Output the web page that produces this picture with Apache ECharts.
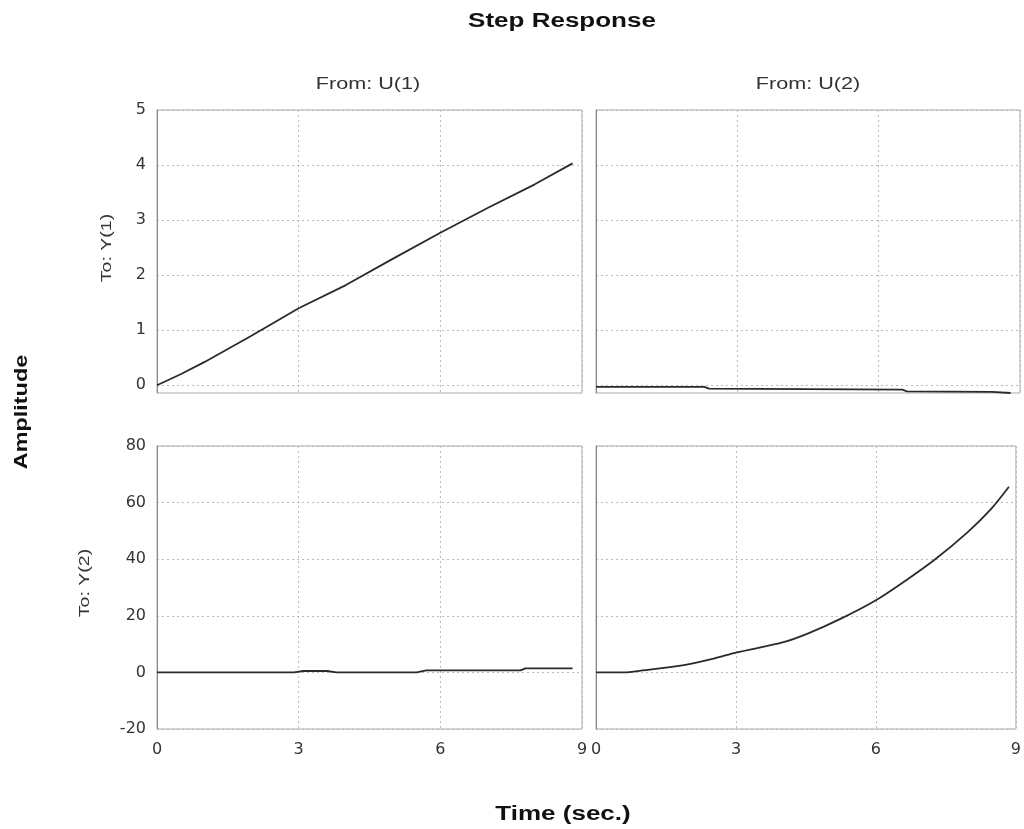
<!DOCTYPE html>
<html>
<head>
<meta charset="utf-8">
<script src="https://cdn.jsdelivr.net/npm/echarts@6/dist/echarts.min.js"></script>
<style>
  html, body { margin: 0; padding: 0; background: #fff; }
  #main { width: 1024px; height: 829px; }
</style>
</head>
<body>
<div id="main"></div>
<script>
// step response data
const timeTicks = [0, 3, 6, 9]
const topTicks = [0, 1, 2, 3, 4, 5]

const t11 = [0, 0.5, 1, 2, 3, 4, 5, 6, 7, 8, 8.8]
const y11 = [0, 0.2, 0.42, 0.9, 1.4, 1.82, 2.3, 2.77, 3.22, 3.65, 4.03]

const t12 = [0, 2.3, 2.4, 6.5, 6.6, 8.4, 8.8]
const y12 = [-0.03, -0.03, -0.06, -0.08, -0.11, -0.12, -0.14]

const t21 = [0, 2.9, 3.1, 3.6, 3.8, 5.5, 5.7, 7.7, 7.8, 8.8]
const y21 = [0, 0, 0.5, 0.5, 0, 0, 0.7, 0.7, 1.4, 1.4]

const t22 = [0, 0.6, 1.0, 1.85, 2.55, 3.0, 4.0, 4.55, 5.25, 6.0, 6.65, 7.25, 7.95, 8.45, 8.85]
const y22 = [0, 0, 0.7, 2.5, 5, 7, 10.6, 13.8, 19, 25.5, 32.6, 39.7, 49.3, 57.4, 65.6]

const pairs = (xs, ys) => xs.map((x, i) => [x, ys[i]])

const font = 'Liberation Sans, Arial, sans-serif'
const tickFont = 'DejaVu Sans, sans-serif'
const gridLine = { show: true, lineStyle: { color: '#bbb', type: [2, 3], width: 1 } }

function xAx(idx, showLabel) {
  return {
    type: 'value', gridIndex: idx, min: 0, max: 9, interval: 3,
    axisLine: { show: false },
    axisTick: { show: false },
    axisLabel: { show: showLabel, color: '#333', fontSize: 16, fontFamily: tickFont, margin: 13 },
    splitLine: gridLine
  }
}

function yTop(idx, showLabel) {
  return {
    type: 'value', gridIndex: idx, min: -0.14, max: 5,
    axisLine: { show: true, lineStyle: { color: '#888' } },
    axisTick: { show: false, customValues: topTicks },
    axisLabel: { show: showLabel, customValues: topTicks, color: '#333', fontSize: 16, fontFamily: tickFont, margin: 11 },
    splitLine: Object.assign({ customValues: topTicks }, gridLine)
  }
}

function yBottom(idx, showLabel) {
  return {
    type: 'value', gridIndex: idx, min: -20, max: 80, interval: 20,
    axisLine: { show: true, lineStyle: { color: '#888' } },
    axisTick: { show: false },
    axisLabel: { show: showLabel, color: '#333', fontSize: 16, fontFamily: tickFont, margin: 11 },
    splitLine: gridLine
  }
}

function line(idx, data, smooth) {
  return {
    type: 'line', xAxisIndex: idx, yAxisIndex: idx, data: data,
    showSymbol: false, silent: true, smooth: smooth,
    lineStyle: { color: '#2a2a2a', width: 1.8 }
  }
}

// stretched text like the scanned original
function label(text, x, y, size, bold, rot, sx) {
  return {
    type: 'text', x: x, y: y, rotation: rot || 0, scaleX: sx || 1.3,
    style: {
      text: text, font: (bold ? 'bold ' : '') + size + 'px ' + font,
      fill: bold ? '#111' : '#333', align: 'center', verticalAlign: 'middle'
    }
  }
}

const gridStyle = { show: true, borderColor: '#aaa', borderWidth: 1, backgroundColor: '#fff' }

let myChart = echarts.init(document.getElementById('main'))
let option = {
  backgroundColor: '#fff',
  animation: false,
  grid: [
    Object.assign({ left: 157, top: 110, width: 425, height: 283 }, gridStyle),
    Object.assign({ left: 596, top: 110, width: 424, height: 283 }, gridStyle),
    Object.assign({ left: 157, top: 446, width: 425, height: 283 }, gridStyle),
    Object.assign({ left: 596, top: 446, width: 424, height: 283 }, gridStyle)
  ],
  xAxis: [xAx(0, false), xAx(1, false), xAx(2, true), xAx(3, true)],
  yAxis: [yTop(0, true), yTop(1, false), yBottom(2, true), yBottom(3, false)],
  series: [
    line(0, pairs(t11, y11), false),
    line(1, pairs(t12, y12), false),
    line(2, pairs(t21, y21), false),
    line(3, pairs(t22, y22), 0.3)
  ],
  graphic: [
    label('Step Response', 562, 21, 20, true),
    label('From: U(1)', 368, 85, 16, false, 0, 1.35),
    label('From: U(2)', 808, 85, 16, false, 0, 1.35),
    label('Time (sec.)', 563, 814, 20, true),
    label('Amplitude', 22, 412, 18, true, Math.PI / 2),
    label('To: Y(1)', 107, 248, 15, false, Math.PI / 2),
    label('To: Y(2)', 85, 583, 15, false, Math.PI / 2)
  ]
}
myChart.setOption(option)
</script>
</body>
</html>
